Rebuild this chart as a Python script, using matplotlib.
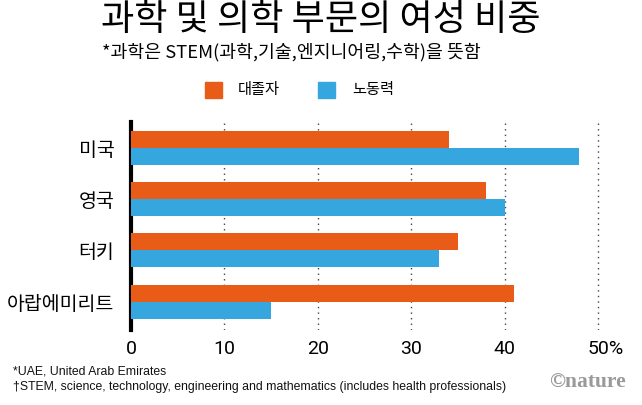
import matplotlib
matplotlib.use("Agg")
import matplotlib.pyplot as plt
import matplotlib.transforms as mtransforms
import numpy as np

plt.rcParams["font.family"] = ["Noto Sans CJK KR", "DejaVu Sans"]

countries = ["미국", "영국", "터키", "아랍에미리트"]
graduates = [34, 38, 35, 41]
workforce = [48, 40, 33, 15]
series_labels = ["대졸자", "노동력"]
xticks = [0, 10, 20, 30, 40, 50]
xtick_labels = ["0", "10", "20", "30", "40", "50%"]

ORANGE = "#E85C17"
BLUE = "#35A6DE"

fig = plt.figure(figsize=(6.42, 4.05), dpi=100)
ax = fig.add_axes([0.204, 0.185, 0.742, 0.514])

y = np.arange(len(countries))
h = 0.33
ax.barh(y - h / 2, graduates, height=h, color=ORANGE, zorder=3)
ax.barh(y + h / 2, workforce, height=h, color=BLUE, zorder=3)

ax.set_xlim(0, 51)
ax.set_ylim(3.55, -0.5)
ax.set_yticks(y)
ax.set_yticklabels(countries, fontsize=14)
ax.set_xticks(xticks)
ax.set_xticklabels(xtick_labels, fontsize=14, family=["Roboto", "DejaVu Sans"])
ax.tick_params(length=0, pad=7)
ax.tick_params(axis="y", pad=12)

# keep "50" centred on its gridline, with the % sign hanging to the right
last = ax.get_xticklabels()[-1]
last.set_transform(last.get_transform() + mtransforms.ScaledTranslation(0.08, 0, fig.dpi_scale_trans))

for v in xticks[1:]:
    ax.axvline(v, color="#444444", lw=1, ls=(0, (1, 3)), zorder=1)

for s in ["top", "right", "bottom"]:
    ax.spines[s].set_visible(False)
ax.spines["left"].set_linewidth(3)
ax.spines["left"].set_color("black")

fig.text(0.5, 0.95, "과학 및 의학 부문의 여성 비중", ha="center", va="center", fontsize=26,
         fontweight="light")
fig.text(0.159, 0.872, "*과학은 STEM(과학,기술,엔지니어링,수학)을 뜻함", ha="left", va="center", fontsize=13.2)

# legend drawn by hand to match the spacing
fig.patches.append(plt.Rectangle((0.319, 0.758), 0.027, 0.04, transform=fig.transFigure, color=ORANGE))
fig.text(0.370, 0.778, series_labels[0], ha="left", va="center", fontsize=11)
fig.patches.append(plt.Rectangle((0.495, 0.758), 0.027, 0.04, transform=fig.transFigure, color=BLUE))
fig.text(0.548, 0.778, series_labels[1], ha="left", va="center", fontsize=11)

foot = ["Liberation Sans", "DejaVu Sans"]
fig.text(0.02, 0.082, "*UAE, United Arab Emirates", fontsize=8.8, family=foot, va="center", color="#111111")
fig.text(0.02, 0.045, "†STEM, science, technology, engineering and mathematics (includes health professionals)",
         fontsize=8.8, family=foot, va="center", color="#111111")
fig.text(0.974, 0.054, "©nature", fontsize=15.5, family=["Liberation Serif", "DejaVu Serif"],
         color="#9a9a9a", ha="right", va="center", fontweight="bold")

fig.savefig("out.png", dpi=100)
